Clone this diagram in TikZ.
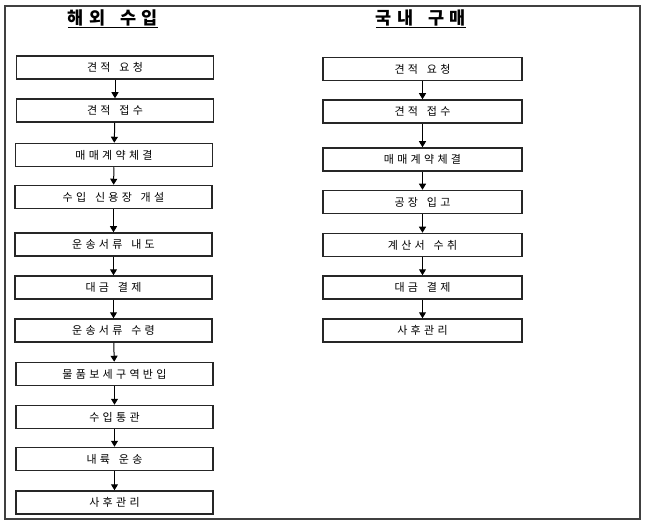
\documentclass[tikz,border=0pt]{standalone}
\usepackage{fontspec}
\usepackage{tikz}
\usetikzlibrary{arrows.meta}
\newfontfamily\krbox[LetterSpace=30]{Noto Sans CJK KR}
\newfontfamily\krtitle[LetterSpace=30]{Noto Sans CJK KR}
\tikzset{stepbox/.style={draw=black!85, line width=1.5pt, minimum width=197pt,
   minimum height=23pt, inner sep=0pt, font=\krbox\fontsize{11}{12}\selectfont,
   text=black},
 title/.style={font=\krtitle\bfseries\fontsize{17.5}{18}\selectfont},
 flow/.style={draw, line width=1pt, -{Triangle[length=6pt,width=7pt]}},
 }

\begin{document}
\begin{tikzpicture}[x=1pt,y=-1pt]
    \useasboundingbox (0,0) rectangle (646,524);
    \draw[line width=1.5pt, black!75] (5,6) rectangle (640,519);
    % titles
    \node[title] (tl) at (113,19) {\underline{해외\hspace{6pt} 수입}};
    \node[title] (tr) at (421,19) {\underline{국내\hspace{6pt} 구매}};
    % left column
    \node[stepbox] (l1) at (115,67.5) {견적\hspace{3pt} 요청};
    \node[stepbox] (l2) at (115,110.5) {견적\hspace{3pt} 접수};
    \node[stepbox] (l3) at (114,155) {매매계약체결};
    \node[stepbox] (l4) at (113.5,197) {수입\hspace{3pt} 신용장\hspace{3pt} 개설};
    \node[stepbox] (l5) at (113.5,244.5) {운송서류\hspace{3pt} 내도};
    \node[stepbox] (l6) at (113.5,287.5) {대금\hspace{3pt} 결제};
    \node[stepbox] (l7) at (113.5,330.5) {운송서류\hspace{3pt} 수령};
    \node[stepbox] (l8) at (114.5,374) {물품보세구역반입};
    \node[stepbox] (l9) at (114.5,417) {수입통관};
    \node[stepbox] (l10) at (114.5,459) {내륙\hspace{3pt} 운송};
    \node[stepbox] (l11) at (114.5,502.5) {사후관리};
    % right column
    \node[stepbox, minimum width=199pt] (r1) at (422.5,69) {견적\hspace{3pt} 요청};
    \node[stepbox, minimum width=199pt] (r2) at (422.5,111.5) {견적\hspace{3pt} 접수};
    \node[stepbox, minimum width=199pt] (r3) at (422.5,159.5) {매매계약체결};
    \node[stepbox, minimum width=199pt] (r4) at (422.5,202) {공장\hspace{3pt} 입고};
    \node[stepbox, minimum width=199pt] (r5) at (422.5,245) {계산서\hspace{3pt} 수취};
    \node[stepbox, minimum width=199pt] (r6) at (422.5,287.5) {대금\hspace{3pt} 결제};
    \node[stepbox, minimum width=199pt] (r7) at (422.5,330.5) {사후관리};
    % arrows
    \draw[flow] (l1) -- (l2);
    \draw[flow] (l2) -- (l3);
    \draw[flow] (l3) -- (l4);
    \draw[flow] (l4) -- (l5);
    \draw[flow] (l5) -- (l6);
    \draw[flow] (l6) -- (l7);
    \draw[flow] (l7) -- (l8);
    \draw[flow] (l8) -- (l9);
    \draw[flow] (l9) -- (l10);
    \draw[flow] (l10) -- (l11);
    \draw[flow] (r1) -- (r2);
    \draw[flow] (r2) -- (r3);
    \draw[flow] (r3) -- (r4);
    \draw[flow] (r4) -- (r5);
    \draw[flow] (r5) -- (r6);
    \draw[flow] (r6) -- (r7);
\end{tikzpicture}
\end{document}
